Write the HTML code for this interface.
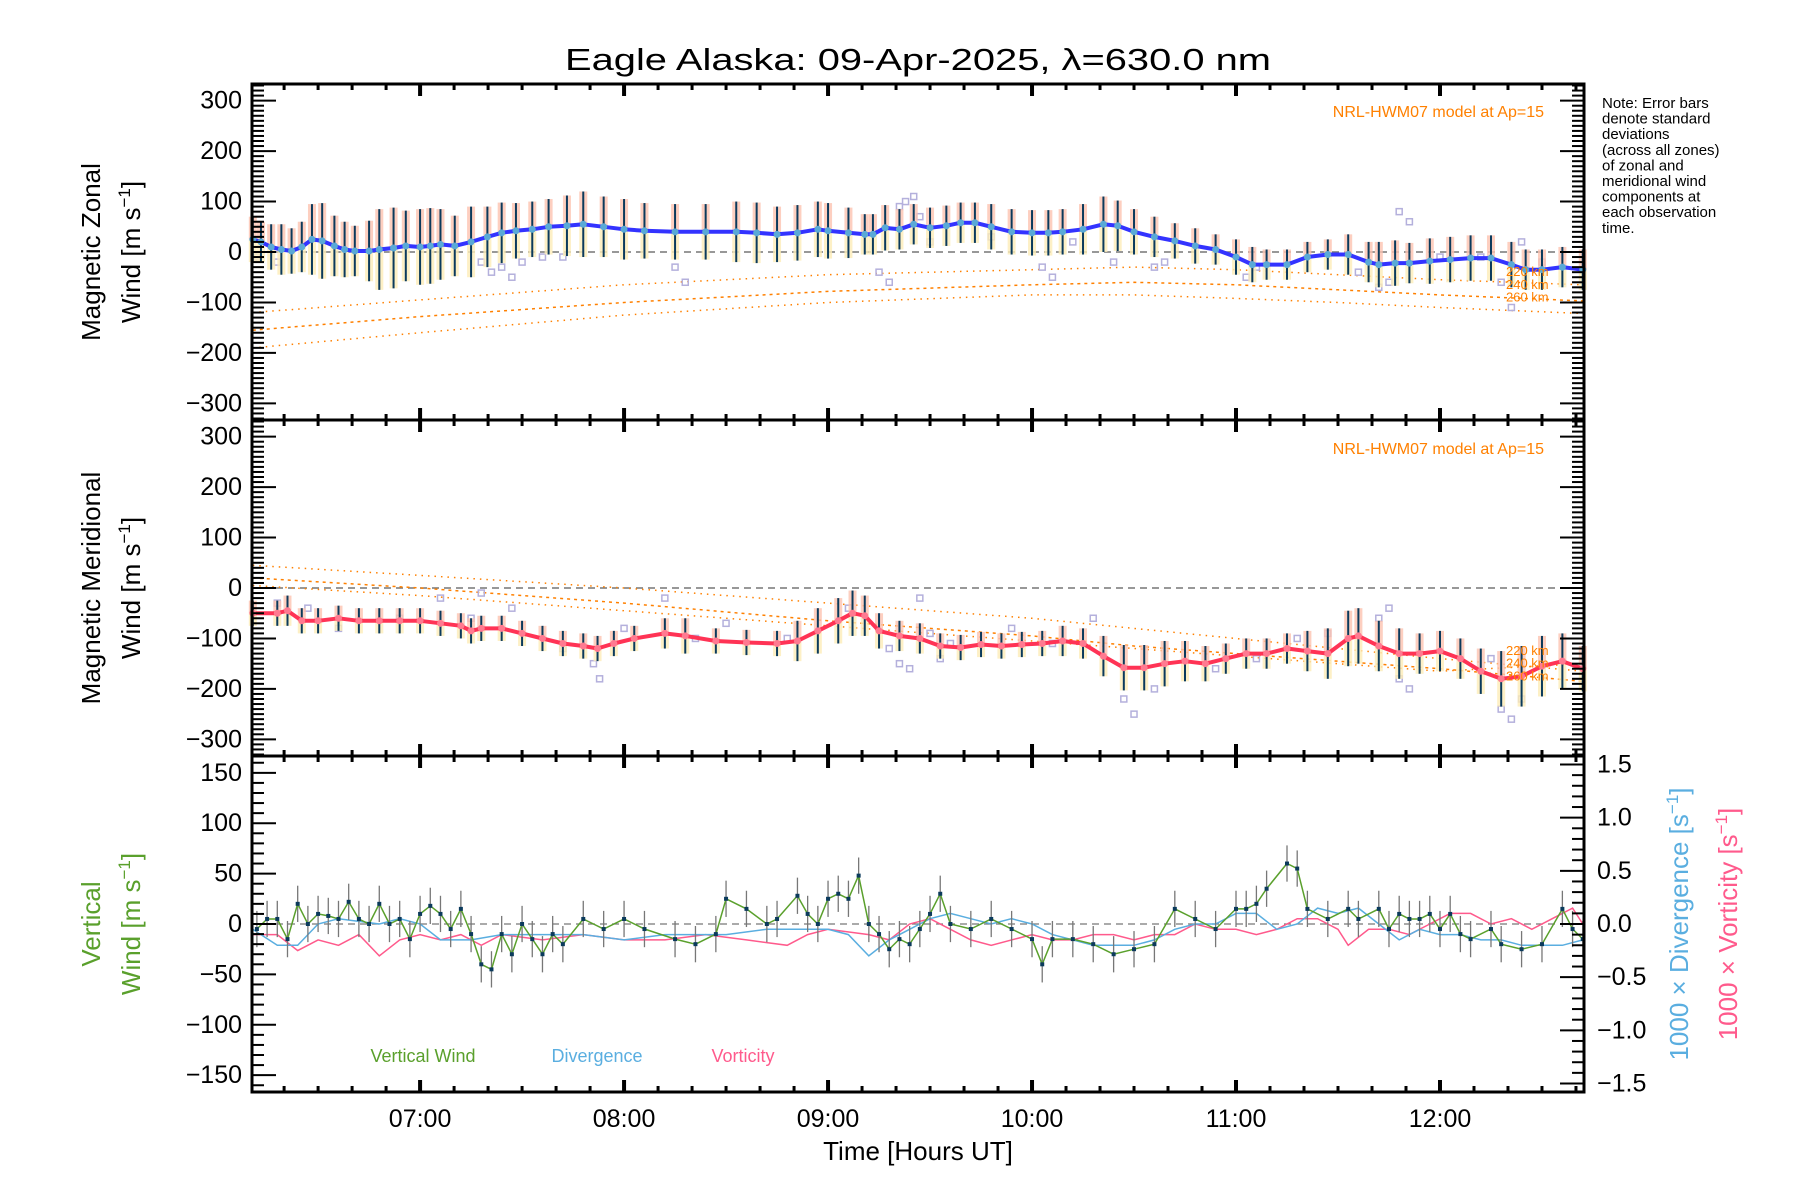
<!DOCTYPE html>
<html><head><meta charset="utf-8"><style>
html,body{margin:0;padding:0;background:#fff;}
svg{display:block;font-family:"Liberation Sans",sans-serif;}
</style></head><body>
<svg id="chart" width="1800" height="1200" viewBox="0 0 1800 1200"></svg>
<script>
// ---- data ----
const zonalT=[6.18,6.22,6.27,6.32,6.37,6.42,6.47,6.52,6.58,6.63,6.68,6.75,6.8,6.87,6.93,7.0,7.05,7.1,7.17,7.25,7.33,7.4,7.47,7.55,7.63,7.72,7.8,7.9,8.0,8.1,8.25,8.4,8.55,8.65,8.75,8.85,8.95,9.0,9.1,9.18,9.22,9.28,9.35,9.42,9.5,9.58,9.65,9.72,9.8,9.9,10.0,10.08,10.15,10.25,10.35,10.42,10.5,10.6,10.7,10.8,10.9,11.0,11.08,11.15,11.25,11.35,11.45,11.55,11.65,11.7,11.78,11.85,11.95,12.05,12.15,12.25,12.35,12.42,12.5,12.6,12.7];
const zonalV=[25,20,10,5,2,10,25,22,12,5,2,2,5,8,12,10,12,15,12,20,30,38,42,45,50,52,55,50,45,42,40,40,40,38,35,38,45,42,38,35,35,48,45,55,48,52,58,58,50,40,38,38,40,45,55,52,40,30,22,12,5,-10,-25,-25,-25,-10,-5,-5,-20,-25,-22,-22,-18,-15,-12,-12,-25,-35,-35,-30,-35];
const zonalE=[45,40,45,50,45,50,70,75,60,55,50,60,80,80,70,75,75,70,60,70,60,60,55,55,55,60,65,60,60,55,55,55,60,60,55,55,55,55,50,40,40,45,40,40,40,40,40,40,45,45,45,45,45,50,55,50,45,40,35,35,30,35,35,30,30,30,30,40,40,45,45,40,45,45,45,45,45,40,40,40,40];
const meridT=[6.18,6.3,6.35,6.42,6.5,6.6,6.7,6.8,6.9,7.0,7.1,7.2,7.25,7.3,7.4,7.5,7.6,7.7,7.8,7.87,7.95,8.05,8.2,8.3,8.45,8.6,8.75,8.85,8.95,9.05,9.12,9.18,9.25,9.35,9.45,9.55,9.65,9.75,9.85,9.95,10.05,10.15,10.25,10.35,10.45,10.55,10.65,10.75,10.85,10.95,11.05,11.15,11.25,11.35,11.45,11.55,11.6,11.7,11.8,11.9,12.0,12.1,12.2,12.3,12.4,12.5,12.6,12.7];
const meridV=[-50,-50,-45,-65,-65,-60,-65,-65,-65,-65,-70,-75,-85,-80,-80,-90,-100,-110,-115,-120,-110,-100,-90,-95,-105,-108,-110,-105,-85,-65,-50,-55,-85,-95,-100,-115,-118,-112,-115,-112,-110,-105,-110,-135,-158,-158,-150,-145,-150,-140,-130,-130,-120,-125,-130,-100,-95,-115,-130,-130,-125,-140,-165,-180,-175,-155,-145,-160];
const meridE=[25,25,30,25,25,25,25,25,25,25,25,25,25,25,25,25,25,25,25,25,25,25,30,35,25,25,25,40,45,45,45,40,35,30,30,25,25,25,25,25,25,30,30,40,45,45,45,40,35,30,30,30,30,40,50,55,55,50,50,40,40,40,45,55,60,60,55,45];
const zScatT=[6.2,6.3,7.3,7.35,7.4,7.45,7.5,7.6,7.7,8.25,8.3,9.25,9.3,9.35,9.38,9.42,9.45,9.5,9.8,10.05,10.1,10.2,10.4,10.6,10.65,11.05,11.1,11.6,11.7,11.75,11.8,11.85,12.0,12.2,12.3,12.35,12.4,12.5];
const zScatV=[-10,-20,-20,-40,-30,-50,-20,-10,-10,-30,-60,-40,-60,90,100,110,70,20,30,-30,-50,20,-20,-30,-20,-50,-30,-40,-70,-60,80,60,-10,-10,-60,-110,20,-20];
const mScatT=[6.3,6.45,6.6,6.9,7.1,7.25,7.3,7.45,7.7,7.85,7.88,8.0,8.2,8.35,8.5,8.8,9.1,9.3,9.35,9.4,9.45,9.5,9.55,9.6,9.9,10.1,10.3,10.45,10.5,10.6,10.9,11.1,11.3,11.45,11.7,11.75,11.8,11.85,12.25,12.3,12.35,12.4];
const mScatV=[-30,-40,-80,-60,-20,-60,-10,-40,-120,-150,-180,-80,-20,-100,-70,-100,-40,-120,-150,-160,-20,-90,-140,-110,-80,-110,-60,-220,-250,-200,-160,-140,-100,-90,-60,-40,-180,-200,-140,-240,-260,-220];
const vertT=[6.2,6.25,6.3,6.35,6.4,6.45,6.5,6.55,6.6,6.65,6.7,6.75,6.8,6.85,6.9,6.95,7.0,7.05,7.1,7.15,7.2,7.25,7.3,7.35,7.4,7.45,7.5,7.55,7.6,7.65,7.7,7.8,7.9,8.0,8.1,8.25,8.35,8.45,8.5,8.6,8.7,8.75,8.85,8.9,8.95,9.0,9.05,9.1,9.15,9.2,9.25,9.3,9.35,9.4,9.45,9.5,9.55,9.6,9.7,9.8,9.9,10.0,10.05,10.1,10.2,10.3,10.4,10.5,10.6,10.7,10.8,10.9,11.0,11.05,11.1,11.15,11.25,11.3,11.35,11.45,11.55,11.6,11.7,11.75,11.8,11.85,11.9,11.95,12.0,12.05,12.1,12.15,12.25,12.3,12.4,12.5,12.6,12.65,12.7];
const vertV=[-5,5,5,-15,20,0,10,8,5,22,5,0,20,0,5,-15,10,18,10,-5,15,-10,-40,-45,-10,-30,0,-15,-30,-10,-20,5,-5,5,-5,-15,-20,-10,25,15,0,5,28,10,0,25,30,25,48,0,-10,-25,-15,-20,-5,10,30,0,-5,5,-5,-15,-40,-15,-15,-20,-30,-25,-20,15,5,-5,15,15,20,35,60,55,15,5,15,5,15,-5,10,5,5,10,-5,10,-10,-15,-5,-20,-25,-20,15,-5,-15];
const divT=[6.18,6.3,6.4,6.5,6.6,6.8,6.9,7.0,7.1,7.25,7.4,7.6,7.8,8.0,8.2,8.5,8.7,8.9,9.0,9.1,9.2,9.3,9.4,9.5,9.6,9.7,9.8,9.9,10.0,10.1,10.2,10.3,10.4,10.5,10.6,10.7,10.8,10.9,11.0,11.1,11.2,11.3,11.4,11.5,11.6,11.7,11.8,11.9,12.0,12.1,12.2,12.3,12.4,12.5,12.6,12.7];
const divV=[-0.05,-0.2,-0.2,0.0,0.05,0.0,0.05,0.0,-0.15,-0.15,-0.1,-0.1,-0.1,-0.15,-0.1,-0.1,-0.05,-0.05,-0.05,-0.1,-0.3,-0.15,-0.05,0.05,0.1,0.05,0.0,0.05,0.0,-0.1,-0.15,-0.2,-0.2,-0.2,-0.15,-0.05,0.0,0.0,0.1,0.1,-0.05,0.0,0.15,0.1,0.15,0.0,-0.15,-0.05,-0.1,-0.1,-0.15,-0.15,-0.2,-0.2,-0.2,-0.15];
const vortT=[6.18,6.3,6.4,6.5,6.6,6.7,6.8,6.9,7.0,7.1,7.2,7.3,7.4,7.6,7.8,8.0,8.2,8.4,8.6,8.8,8.9,9.0,9.2,9.3,9.4,9.5,9.6,9.7,9.8,10.0,10.1,10.2,10.3,10.4,10.5,10.6,10.7,10.8,10.9,11.0,11.1,11.2,11.3,11.4,11.5,11.55,11.65,11.75,11.85,11.95,12.05,12.15,12.25,12.35,12.45,12.55,12.65,12.7];
const vortV=[-0.1,-0.1,-0.25,-0.15,-0.2,-0.1,-0.3,-0.15,-0.1,-0.15,-0.1,-0.2,-0.1,-0.15,-0.1,-0.15,-0.15,-0.1,-0.15,-0.2,-0.1,-0.05,-0.1,-0.15,0.0,0.05,-0.05,-0.15,-0.2,-0.1,-0.15,-0.15,-0.1,-0.1,-0.15,-0.1,-0.1,0.0,-0.05,-0.05,-0.1,-0.05,0.05,0.05,-0.05,-0.2,-0.05,-0.05,-0.1,0.0,0.1,0.1,0.0,0.05,-0.05,0.05,0.15,0.0];
const modelT=[6.18,7.0,8.0,9.0,10.0,10.5,11.0,11.5,12.0,12.7];
const zon220=[-120,-95,-65,-45,-35,-30,-35,-45,-55,-65];
const zon240=[-155,-128,-100,-78,-65,-60,-65,-75,-85,-97];
const zon260=[-190,-160,-125,-100,-85,-85,-92,-100,-110,-122];
const mer220=[45,25,0,-30,-60,-80,-100,-120,-140,-165];
const mer240=[20,0,-30,-65,-95,-115,-130,-145,-160,-185];
const mer260=[5,-15,-45,-75,-105,-120,-135,-150,-165,-150];
const xTickLabels=["07:00","08:00","09:00","10:00","11:00","12:00"];
const xTickHours=[7,8,9,10,11,12];

// ---- layout ----
const NS="http://www.w3.org/2000/svg";
const svg=document.getElementById('chart');
const L=252,R=1584,T0=84,T1=420,T2=756,T3=1092;
const X0=6.176,X1=12.706;
const x=h=>L+(h-X0)/(X1-X0)*(R-L);
const y1=v=>252-v*(168/333);
const y2=v=>588-v*(168/333);
const y3=v=>924-v*(168/166.7);
const y3r=v=>924-v*(168/1.58);
function el(tag,attrs,parent){const e=document.createElementNS(NS,tag);for(const k in attrs)e.setAttribute(k,attrs[k]);(parent||svg).appendChild(e);return e;}
function txt(s,attrs,parent){const e=el('text',attrs,parent);e.textContent=s;return e;}
function path(ts,vs,fy){return ts.map((t,i)=>(i?'L':'M')+x(t).toFixed(1)+' '+fy(vs[i]).toFixed(1)).join(' ');}

const title=txt('Eagle Alaska: 09-Apr-2025, λ=630.0 nm',{x:918,y:70,'font-size':31,'text-anchor':'middle','textLength':706,'lengthAdjust':'spacingAndGlyphs'});



[y1,y2].forEach(fy=>{
  const z=el('line',{x1:L,x2:R,y1:fy(0),y2:fy(0),stroke:'#777','stroke-width':1.5,'stroke-dasharray':'7,5'});
  
  
});
const z3=el('line',{x1:L,x2:R,y1:y3(0),y2:y3(0),stroke:'#777','stroke-width':1.2,'stroke-dasharray':'7,5'});



function model(vs,fy,dash,name){
  const p=el('path',{d:path(modelT,vs,fy),fill:'none',stroke:'#ff8000','stroke-width':1.5,'stroke-dasharray':dash});
  
  
}
model(zon220,y1,'1.5,5','zonal-model-220km');model(zon240,y1,'3,4','zonal-model-240km');model(zon260,y1,'1.5,5','zonal-model-260km');
model(mer220,y2,'1.5,5','meridional-model-220km');model(mer240,y2,'3,4','meridional-model-240km');model(mer260,y2,'1.5,5','meridional-model-260km');

function scatter(ts,vs,fy,name){
  ts.forEach((t,i)=>{
    const r=el('rect',{x:x(t)-3,y:fy(vs[i])-3,width:6,height:6,fill:'none',stroke:'#b4b0dc','stroke-width':1.5});
    
    
  });
}
scatter(zScatT,zScatV,y1,'zonal');
scatter(mScatT,mScatV,y2,'meridional');

function bars(ts,vs,es,fy,name){
  ts.forEach((t,i)=>{
    const top=fy(vs[i]+es[i]),bot=fy(vs[i]-es[i]),mid=fy(vs[i]);
    const a=el('rect',{x:x(t)-4,y:top,width:8,height:mid-top,fill:'#fcc3b0',opacity:0.8});
    
    
    const b=el('rect',{x:x(t)-4,y:mid,width:8,height:bot-mid,fill:'#fdecb8',opacity:0.8});
    
    
  });
  ts.forEach((t,i)=>{
    const l=el('line',{x1:x(t),x2:x(t),y1:fy(vs[i]+es[i]),y2:fy(vs[i]-es[i]),stroke:'#0b3a5c','stroke-width':2});
    
    
  });
}
bars(zonalT,zonalV,zonalE,y1,'zonal');
bars(meridT,meridV,meridE,y2,'meridional');

function mainLine(ts,vs,fy,col,name){
  const p=el('path',{d:path(ts,vs,fy),fill:'none',stroke:col,'stroke-width':4,'stroke-linejoin':'round'});
  
  
  ts.forEach((t,i)=>{
    const c=el('circle',{cx:x(t),cy:fy(vs[i]),r:3.5,fill:col==='#3333ff'?'#5aa9d6':'#ff7a90'});
    
    
  });
}
mainLine(zonalT,zonalV,y1,'#3333ff','zonal-wind');
mainLine(meridT,meridV,y2,'#ff3355','meridional-wind');

const vp=el('path',{d:path(vortT,vortV,y3r),fill:'none',stroke:'#ff5a8c','stroke-width':1.5});


const dp=el('path',{d:path(divT,divV,y3r),fill:'none',stroke:'#5aaee0','stroke-width':1.5});


vertT.forEach((t,i)=>{
  const l=el('line',{x1:x(t),x2:x(t),y1:y3(vertV[i]+18),y2:y3(vertV[i]-18),stroke:'#777','stroke-width':1.3});
  
  
});
const gp=el('path',{d:path(vertT,vertV,y3),fill:'none',stroke:'#5aa02c','stroke-width':1.5});


vertT.forEach((t,i)=>{
  const r=el('rect',{x:x(t)-2,y:y3(vertV[i])-2,width:4,height:4,fill:'#0b3a5c'});
  
  
});

function frame(top,bot,name){
  const f=el('rect',{x:L,y:top,width:R-L,height:bot-top,fill:'none',stroke:'#000','stroke-width':3});
  
  
  for(let m=Math.ceil(X0*6);m<=X1*6;m++){
    const h=m/6,maj=(m%6===0),len=maj?12:6,w=maj?4:3;
    el('line',{x1:x(h),x2:x(h),y1:top,y2:top+len,stroke:'#000','stroke-width':w});
    el('line',{x1:x(h),x2:x(h),y1:bot,y2:bot-len,stroke:'#000','stroke-width':w});
  }
}
function yticks(fy,lo,hi,maj,minor,right){
  for(let v=lo;v<=hi+1e-9;v+=minor){
    const vv=Math.round(v/minor)*minor;
    const isMaj=Math.abs(vv/maj-Math.round(vv/maj))<1e-6;
    const len=isMaj?24:12;
    el('line',{x1:L,x2:L+len,y1:fy(vv),y2:fy(vv),stroke:'#000','stroke-width':2});
    if(right){el('line',{x1:R,x2:R-len,y1:fy(vv),y2:fy(vv),stroke:'#000','stroke-width':2});}
  }
}
frame(T0,T1,'zonal-panel-frame');frame(T1,T2,'meridional-panel-frame');frame(T2,T3,'vertical-panel-frame');
yticks(y1,-330,330,100,10,true);yticks(y2,-330,330,100,10,true);
yticks(y3,-160,160,50,10,false);
for(let k=-15;k<=15;k++){const v=k/10;const len=(k%5===0)?24:12;el('line',{x1:R,x2:R-len,y1:y3r(v),y2:y3r(v),stroke:'#000','stroke-width':2});}

const ytl1=[300,200,100,0,-100,-200,-300];
const ytl3=[150,100,50,0,-50,-100,-150];
const ytlR=[1.5,1.0,0.5,0.0,-0.5,-1.0,-1.5];
function lab(s,xx,yy,anchor,name,col){const e=txt(s,{x:xx,y:yy,'font-size':25,'text-anchor':anchor,fill:col||'#000','dominant-baseline':'central'});}
ytl1.forEach(v=>{lab(String(v).replace('-','−'),242,y1(v),'end','zonal-y-tick-label');lab(String(v).replace('-','−'),242,y2(v),'end','meridional-y-tick-label');});
ytl3.forEach(v=>lab(String(v).replace('-','−'),242,y3(v),'end','vertical-y-tick-label'));
ytlR.forEach(v=>lab(v.toFixed(1).replace('-','−'),1597,y3r(v),'start','right-y-tick-label'));
xTickHours.forEach((h,i)=>{const e=txt(xTickLabels[i],{x:x(h),y:1127,'font-size':25,'text-anchor':'middle'});});
const xt=txt('Time [Hours UT]',{x:918,y:1160,'font-size':26,'text-anchor':'middle'});



function vlab(lines,cx,cy,col,name){
  const g=el('g',{transform:`translate(${cx},${cy}) rotate(-90)`});
  
  
  lines.forEach((s,i)=>{const t=el('text',{x:0,y:i*40,'font-size':26,'text-anchor':'middle',fill:col},g);t.innerHTML=s;});
}
vlab(['Magnetic Zonal','Wind [m s<tspan font-size="17" dy="-10">−1</tspan><tspan dy="10">]</tspan>'],100,252,'#000','zonal-y-axis-title');
vlab(['Magnetic Meridional','Wind [m s<tspan font-size="17" dy="-10">−1</tspan><tspan dy="10">]</tspan>'],100,588,'#000','meridional-y-axis-title');
vlab(['Vertical','Wind [m s<tspan font-size="17" dy="-10">−1</tspan><tspan dy="10">]</tspan>'],100,924,'#5aa02c','vertical-y-axis-title');
vlab(['1000 × Divergence [s<tspan font-size="17" dy="-10">−1</tspan><tspan dy="10">]</tspan>'],1688,924,'#5aaee0','divergence-axis-title');
vlab(['1000 × Vorticity [s<tspan font-size="17" dy="-10">−1</tspan><tspan dy="10">]</tspan>'],1737,924,'#ff5a8c','vorticity-axis-title');

[111,448].forEach(yy=>{const e=txt('NRL-HWM07 model at Ap=15',{x:1544,y:yy+6,'font-size':16,'text-anchor':'end',fill:'#ff8000'});});
[['220 km',-40],['240 km',-65],['260 km',-90]].forEach(([s,v])=>{const e=txt(s,{x:1506,y:y1(v)+4,'font-size':13,fill:'#ff8000'});});
[['220 km',-125],['240 km',-150],['260 km',-175]].forEach(([s,v])=>{const e=txt(s,{x:1506,y:y2(v)+4,'font-size':13,fill:'#ff8000'});});

[['Vertical Wind',423,'#5aa02c'],['Divergence',597,'#5aaee0'],['Vorticity',743,'#ff5a8c']].forEach(([s,cx,c])=>{const e=txt(s,{x:cx,y:1062,'font-size':18,'text-anchor':'middle',fill:c});});

const note=['Note: Error bars','denote standard','deviations','(across all zones)','of zonal and','meridional wind','components at','each observation','time.'];
note.forEach((s,i)=>{const e=txt(s,{x:1602,y:108+i*15.6,'font-size':15});});
</script>
</body></html>
